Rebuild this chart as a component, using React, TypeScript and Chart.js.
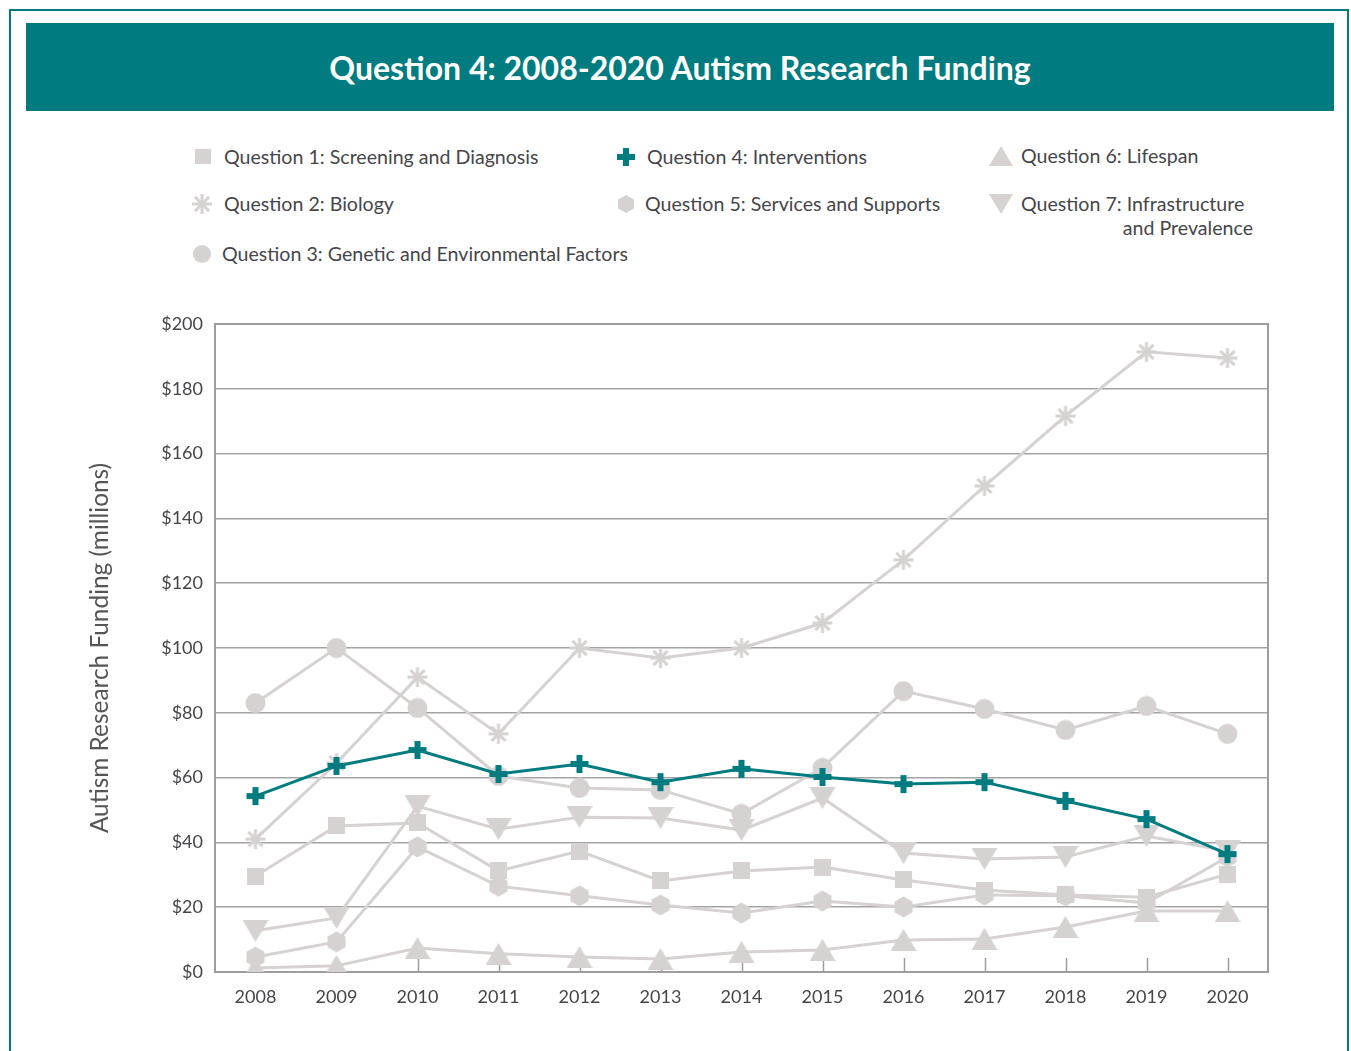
import React, { useEffect, useRef } from "react";
import { Chart, registerables } from "chart.js";

Chart.register(...registerables);

const categories = ["2008", "2009", "2010", "2011", "2012", "2013", "2014", "2015", "2016", "2017", "2018", "2019", "2020"];
const q1Screening = [29.6, 45.1, 46.0, 31.2, 37.3, 28.1, 31.2, 32.4, 28.4, 25.3, 23.8, 23.1, 30.2];
const q2Biology = [41.0, 64.5, 91.0, 73.5, 100.0, 96.9, 100.0, 107.7, 127.2, 150.0, 171.6, 191.4, 189.5];
const q3Genetic = [83.0, 100.0, 81.5, 60.5, 56.8, 56.2, 48.8, 63.0, 86.7, 81.2, 74.7, 82.1, 73.5];
const q4Interventions = [54.3, 63.6, 68.5, 61.1, 64.2, 58.6, 62.7, 60.2, 58.0, 58.6, 52.8, 47.2, 36.4];
const q5Services = [4.6, 9.3, 38.6, 26.5, 23.5, 20.7, 18.2, 21.9, 20.1, 23.8, 23.5, 21.3, 35.5];
const q6Lifespan = [1.2, 1.9, 7.4, 5.6, 4.6, 4.0, 6.2, 6.8, 9.9, 10.2, 13.9, 18.8, 18.8];
const q7Infrastructure = [12.7, 16.7, 51.2, 44.1, 47.8, 47.5, 43.8, 53.7, 36.7, 34.9, 35.5, 42.0, 37.3];
const yTicks = [0, 20, 40, 60, 80, 100, 120, 140, 160, 180, 200];

const TEAL = "#007c80";
const GRAY = "#d5d2d1";
const TEXT = "#46464a";
const FONT = "Lato, 'Noto Sans', sans-serif";

function mk(w: number, h: number, draw: (c: CanvasRenderingContext2D) => void) {
  const cv = document.createElement("canvas");
  cv.width = w;
  cv.height = h;
  const c = cv.getContext("2d")!;
  draw(c);
  return cv;
}

function plusMarker() {
  return mk(20, 20, (c) => {
    c.fillStyle = TEAL;
    c.fillRect(7, 1, 6, 18);
    c.fillRect(1, 7, 18, 6);
  });
}
function hexMarker() {
  return mk(20, 22, (c) => {
    c.fillStyle = GRAY;
    c.beginPath();
    for (let i = 0; i < 6; i++) {
      const a = -Math.PI / 2 + (i * Math.PI) / 3;
      const x = 10 + 10.5 * Math.cos(a);
      const y = 11 + 10.5 * Math.sin(a);
      if (i === 0) c.moveTo(x, y);
      else c.lineTo(x, y);
    }
    c.closePath();
    c.fill();
  });
}
function starMarker() {
  return mk(22, 22, (c) => {
    c.strokeStyle = GRAY;
    c.lineWidth = 3;
    c.lineCap = "butt";
    for (let i = 0; i < 4; i++) {
      const a = (i * Math.PI) / 4;
      c.beginPath();
      c.moveTo(11 - 10 * Math.cos(a), 11 - 10 * Math.sin(a));
      c.lineTo(11 + 10 * Math.cos(a), 11 + 10 * Math.sin(a));
      c.stroke();
    }
  });
}
function triMarker(down: boolean) {
  return mk(26, 22, (c) => {
    c.fillStyle = GRAY;
    c.beginPath();
    if (!down) {
      c.moveTo(13, 0);
      c.lineTo(26, 22);
      c.lineTo(0, 22);
    } else {
      c.moveTo(0, 0);
      c.lineTo(26, 0);
      c.lineTo(13, 22);
    }
    c.closePath();
    c.fill();
  });
}
function squareMarker() {
  return mk(17, 17, (c) => {
    c.fillStyle = GRAY;
    c.fillRect(0, 0, 17, 17);
  });
}
function circleMarker() {
  return mk(21, 21, (c) => {
    c.fillStyle = GRAY;
    c.beginPath();
    c.arc(10.5, 10.5, 10, 0, Math.PI * 2);
    c.fill();
  });
}

const frameTicks = {
  id: "frameTicks",
  beforeDatasetsDraw(chart: any) {
    const { ctx, chartArea } = chart;
    const x = chart.scales.x;
    ctx.save();
    ctx.strokeStyle = "#9d9d9d";
    ctx.lineWidth = 1.5;
    for (let i = 0; i < categories.length; i++) {
      const px = Math.round(x.getPixelForValue(i)) + 0.5;
      ctx.beginPath();
      ctx.moveTo(px, chartArea.bottom);
      ctx.lineTo(px, chartArea.bottom - 14);
      ctx.stroke();
    }
    ctx.lineWidth = 2;
    ctx.strokeStyle = "#9d9d9d";
    ctx.strokeRect(chartArea.left, chartArea.top, chartArea.right - chartArea.left, chartArea.bottom - chartArea.top);
    ctx.restore();
  },
};

function LegendIcon({ kind }: { kind: string }) {
  const s = { display: "block" } as React.CSSProperties;
  if (kind === "square") return <svg width="18" height="18" style={s}><rect x="1" y="1" width="16" height="15" fill={GRAY} /></svg>;
  if (kind === "star")
    return (
      <svg width="22" height="22" style={s}>
        {[0, 45, 90, 135].map((a) => (
          <line key={a} x1={11 - 10 * Math.cos((a * Math.PI) / 180)} y1={11 - 10 * Math.sin((a * Math.PI) / 180)} x2={11 + 10 * Math.cos((a * Math.PI) / 180)} y2={11 + 10 * Math.sin((a * Math.PI) / 180)} stroke={GRAY} strokeWidth="3" />
        ))}
      </svg>
    );
  if (kind === "circle") return <svg width="20" height="20" style={s}><circle cx="10" cy="10" r="9" fill={GRAY} /></svg>;
  if (kind === "plus")
    return (
      <svg width="20" height="20" style={s}>
        <rect x="7" y="1" width="6" height="18" fill={TEAL} />
        <rect x="1" y="7" width="18" height="6" fill={TEAL} />
      </svg>
    );
  if (kind === "hex") return <svg width="20" height="20" style={s}><polygon points="10,1 18,5.5 18,14.5 10,19 2,14.5 2,5.5" fill={GRAY} /></svg>;
  if (kind === "up") return <svg width="24" height="20" style={s}><polygon points="12,0 24,20 0,20" fill={GRAY} /></svg>;
  return <svg width="24" height="20" style={s}><polygon points="0,0 24,0 12,20" fill={GRAY} /></svg>;
}

const legendItems = [
  { kind: "square", label: "Question 1: Screening and Diagnosis", ix: 190, tx: 224, y: 157 },
  { kind: "star", label: "Question 2: Biology", ix: 189, tx: 224, y: 204 },
  { kind: "circle", label: "Question 3: Genetic and Environmental Factors", ix: 189, tx: 222, y: 254 },
  { kind: "plus", label: "Question 4: Interventions", ix: 613, tx: 647, y: 157 },
  { kind: "hex", label: "Question 5: Services and Supports", ix: 613, tx: 645, y: 204 },
  { kind: "up", label: "Question 6: Lifespan", ix: 988, tx: 1021, y: 156 },
  { kind: "down", label: "Question 7: Infrastructure", ix: 988, tx: 1021, y: 204 },
];

const LEG_SIZE = 19.6;

export default function App() {
  const ref = useRef<HTMLCanvasElement>(null);
  useEffect(() => {
    if (!ref.current) return;
    const base = { borderColor: GRAY, borderWidth: 3, tension: 0, order: 1, pointRadius: 10, pointHoverRadius: 10 };
    const chart = new Chart(ref.current, {
      type: "line",
      data: {
        labels: categories,
        datasets: [
          { ...base, label: "Question 1: Screening and Diagnosis", data: q1Screening, pointStyle: squareMarker() as any },
          { ...base, label: "Question 2: Biology", data: q2Biology, pointStyle: starMarker() as any },
          { ...base, label: "Question 3: Genetic and Environmental Factors", data: q3Genetic, pointStyle: circleMarker() as any },
          { ...base, label: "Question 5: Services and Supports", data: q5Services, pointStyle: hexMarker() as any },
          { ...base, label: "Question 6: Lifespan", data: q6Lifespan, pointStyle: triMarker(false) as any },
          { ...base, label: "Question 7: Infrastructure and Prevalence", data: q7Infrastructure, pointStyle: triMarker(true) as any },
          { ...base, label: "Question 4: Interventions", data: q4Interventions, borderColor: TEAL, order: 0, pointStyle: plusMarker() as any },
        ],
      },
      options: {
        responsive: false,
        animation: false,
        layout: { padding: { top: 24, right: 32, left: 0, bottom: 0 } },
        plugins: { legend: { display: false }, tooltip: { enabled: false } },
        scales: {
          x: {
            offset: true,
            grid: { display: false, drawTicks: false },
            border: { display: true, color: "#9d9d9d", width: 2 },
            ticks: { color: TEXT, font: { family: FONT, size: 18 }, padding: 14 },
            afterFit: (s: any) => { s.height = 58; },
          },
          y: {
            min: 0,
            max: 200,
            afterBuildTicks: (s: any) => { s.ticks = yTicks.map((v) => ({ value: v })); },
            grid: { color: "#a3a3a3", lineWidth: 1.5, drawTicks: false },
            border: { display: true, color: "#9d9d9d", width: 2 },
            ticks: { color: TEXT, font: { family: FONT, size: 18 }, padding: 12, callback: (v: any) => "$" + v },
            title: { display: true, text: "Autism Research Funding (millions)", color: "#555557", font: { family: FONT, size: 24.4 }, padding: { top: 26, bottom: 0 } },
            afterFit: (s: any) => { s.width = 155; },
          },
        },
      },
      plugins: [frameTicks],
    } as any);
    return () => chart.destroy();
  }, []);

  return (
    <div style={{ position: "absolute", left: 0, top: 0, width: 1351, height: 1051, overflow: "hidden", fontFamily: FONT }}>
      <div style={{ position: "absolute", left: 9, top: 9, width: 1340, height: 1060, border: `2px solid ${TEAL}`, boxSizing: "border-box" }} />
      <div style={{ position: "absolute", left: 26, top: 23, width: 1308, height: 88, background: TEAL, color: "#fff", display: "flex", alignItems: "center", justifyContent: "center", fontWeight: 700, fontSize: 32 }}>
        Question 4: 2008-2020 Autism Research Funding
      </div>
      {legendItems.map((it) => (
        <React.Fragment key={it.label}>
          <div style={{ position: "absolute", left: it.ix, top: it.y - 11, height: 22, display: "flex", alignItems: "center", width: 26, justifyContent: "center" }}>
            <LegendIcon kind={it.kind} />
          </div>
          <div style={{ position: "absolute", left: it.tx, top: it.y - 12, lineHeight: "24px", fontSize: LEG_SIZE, color: TEXT, whiteSpace: "nowrap" }}>{it.label}</div>
        </React.Fragment>
      ))}
      <div style={{ position: "absolute", left: 1021, top: 228 - 12, width: 232, textAlign: "right", lineHeight: "24px", fontSize: LEG_SIZE, color: TEXT, whiteSpace: "nowrap" }}>and Prevalence</div>
      <canvas ref={ref} width={1240} height={730} style={{ position: "absolute", left: 60, top: 300, width: 1240, height: 730 }} />
    </div>
  );
}
